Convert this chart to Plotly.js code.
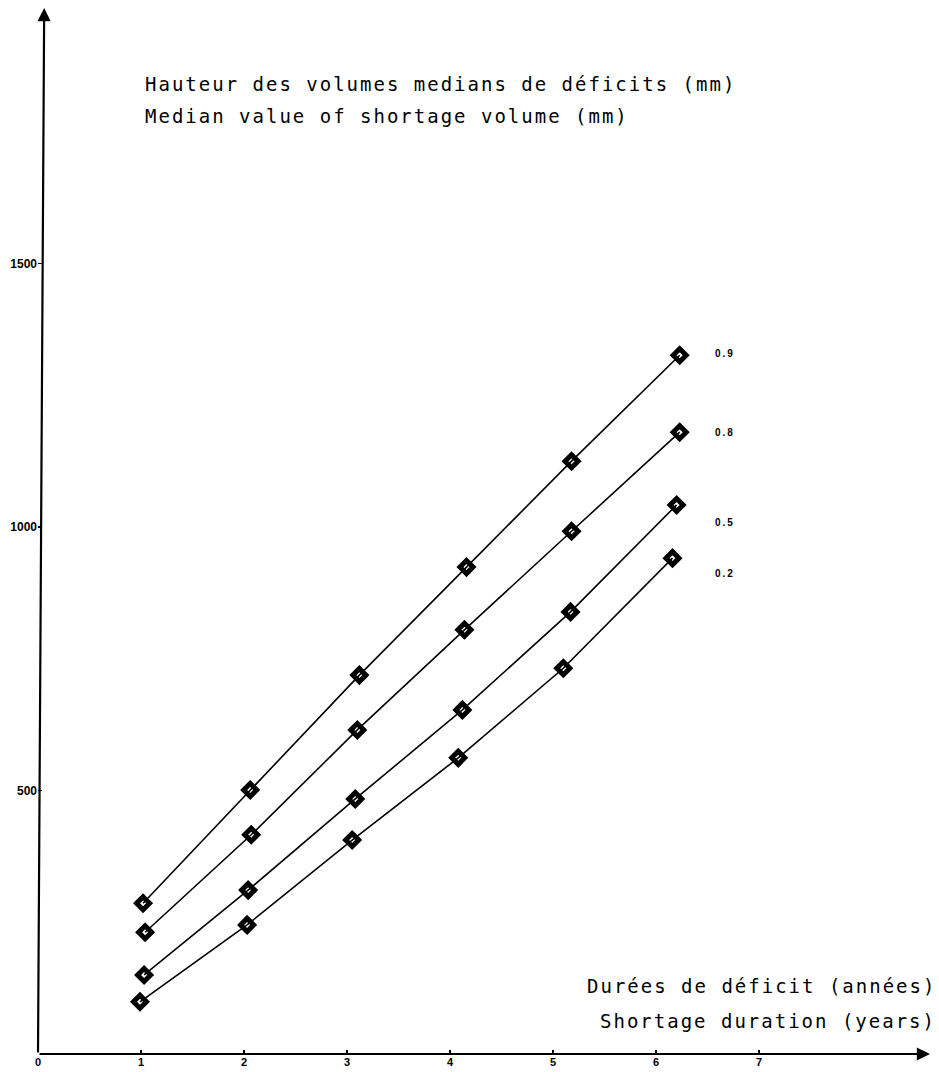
<!DOCTYPE html>
<html>
<head>
<meta charset="utf-8">
<script src="https://cdn.plot.ly/plotly-3.0.1.min.js"></script>
<style>
html,body{margin:0;padding:0;background:#fff;}
#chart{width:939px;height:1072px;}
.annotation-text{letter-spacing:2px;}
</style>
</head>
<body>
<div id="chart"></div>
<script>
// Probability levels (curve labels)
const seriesNames = ["0.9", "0.8", "0.5", "0.2"];
// Shortage duration (years) for each curve
const x09 = [1.02, 2.06, 3.12, 4.16, 5.18, 6.23];
const x08 = [1.04, 2.07, 3.10, 4.14, 5.18, 6.23];
const x05 = [1.03, 2.04, 3.08, 4.12, 5.17, 6.20];
const x02 = [0.99, 2.03, 3.05, 4.08, 5.10, 6.16];
// Median shortage volume (mm)
const y09 = [286, 501, 719, 924, 1125, 1326];
const y08 = [231, 416, 615, 805, 992, 1180];
const y05 = [150, 311, 484, 653, 839, 1042];
const y02 = [99, 245, 406, 562, 732, 941];
// Axis tick labels
const xTicks = [0, 1, 2, 3, 4, 5, 6, 7];
const yTicks = [500, 1000, 1500];
const yTitleLines = ["Hauteur des volumes medians de déficits (mm)", "Median value of shortage volume (mm)"];
const xTitleLines = ["Durées de déficit (années)", "Shortage duration (years)"];

const xs = [x09, x08, x05, x02];
const ys = [y09, y08, y05, y02];

const traces = xs.map((x, i) => ({
  x: x, y: ys[i], name: seriesNames[i], type: "scatter", mode: "lines+markers",
  line: {color: "#000", width: 1.6},
  marker: {symbol: "diamond-open", size: 10, color: "#000", line: {color: "#000", width: 5}},
  showlegend: false, hoverinfo: "skip"
}));

const XMAX = 8.66, YMAX = 1985;
const mono = "DejaVu Sans Mono, monospace";
const annotations = [];
// curve labels
seriesNames.forEach((n, i) => {
  annotations.push({x: 6.55, y: ys[i][ys[i].length - 1], xref: "x", yref: "y", text: "<b>" + n + "</b>",
    showarrow: false, xanchor: "left", yanchor: "middle", font: {family: "Liberation Sans, Arial", size: 10, color: "#000"},
    yshift: [2, 0, -18, -15][i]});
});
// axis titles
yTitleLines.forEach((t, i) => {
  annotations.push({x: 1.02, y: [1840, 1780][i], xref: "x", yref: "y", text: t, showarrow: false,
    xanchor: "left", yanchor: "middle", font: {family: mono, size: 19, color: "#000"}});
});
xTitleLines.forEach((t, i) => {
  annotations.push({x: 1, y: [129, 63][i], xref: "paper", yref: "y", text: t, showarrow: false,
    xanchor: "right", yanchor: "middle", xshift: 8, font: {family: mono, size: 19, color: "#000"}});
});
// axis arrows
annotations.push({x: XMAX, y: 0, ax: 0, ay: 0, xref: "x", yref: "y", axref: "x", ayref: "y", text: "",
  showarrow: true, arrowhead: 2, arrowsize: 1.2, arrowwidth: 2.2, arrowcolor: "#000"});
annotations.push({x: 0.06, y: YMAX, ax: 0, ay: 0, xref: "x", yref: "y", axref: "x", ayref: "y", text: "",
  showarrow: true, arrowhead: 2, arrowsize: 1.2, arrowwidth: 2.2, arrowcolor: "#000"});

const layout = {
  width: 939, height: 1072,
  margin: {l: 38, r: 9, t: 8, b: 18},
  paper_bgcolor: "#fff", plot_bgcolor: "#fff",
  xaxis: {range: [0, XMAX], tickvals: xTicks, ticktext: xTicks.map(v => "<b>" + v + "</b>"),
    showgrid: false, zeroline: false, showline: false, ticks: "inside", ticklen: 4, tickwidth: 1.5, tickcolor: "#000",
    tickfont: {family: "Liberation Sans, Arial", size: 11, color: "#000"}},
  yaxis: {range: [0, YMAX], tickvals: yTicks, ticktext: yTicks.map(v => "<b>" + v + "</b>"),
    showgrid: false, zeroline: false, showline: false, ticks: "inside", ticklen: 4, tickwidth: 1.5, tickcolor: "#000",
    tickfont: {family: "Liberation Sans, Arial", size: 12, color: "#000"}},
  annotations: annotations,
  showlegend: false
};

Plotly.newPlot("chart", traces, layout, {staticPlot: true, displayModeBar: false});
</script>
</body>
</html>
